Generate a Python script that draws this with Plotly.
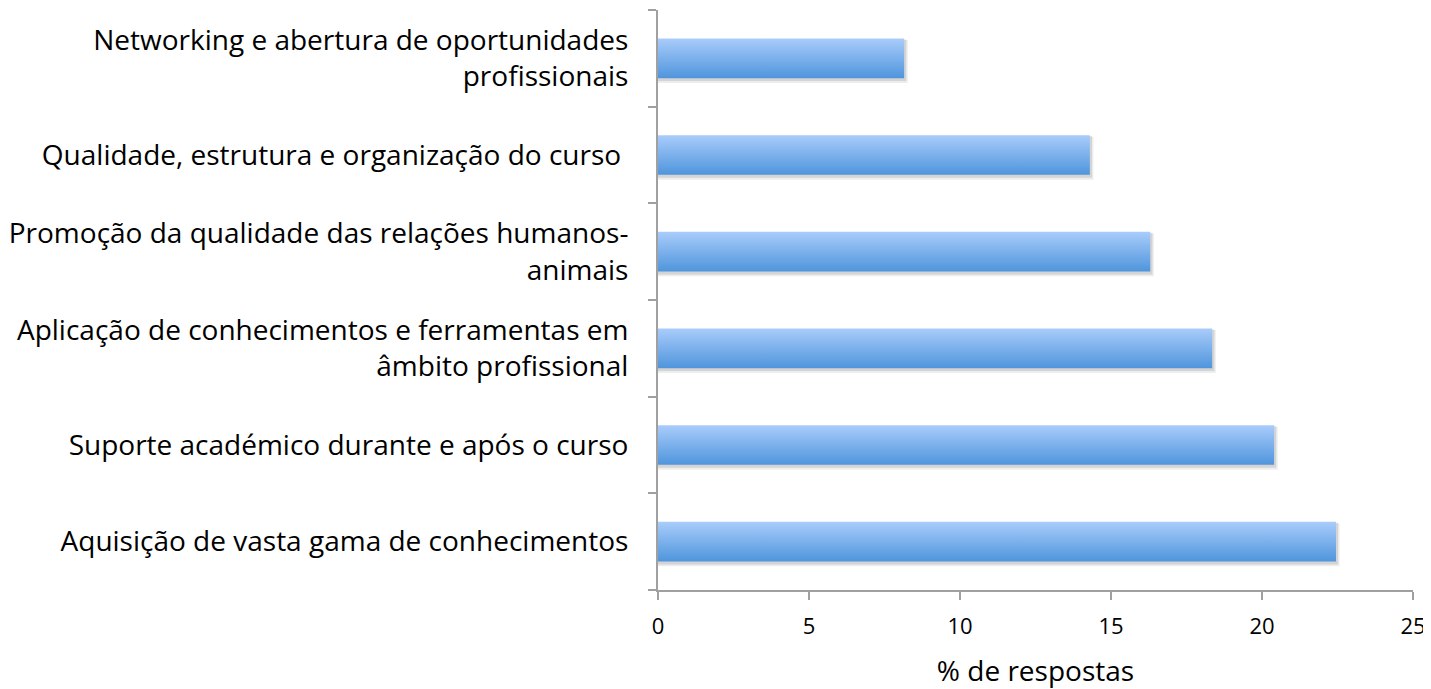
import plotly.graph_objects as go

categories = [
    "Aquisição de vasta gama de conhecimentos",
    "Suporte académico durante e após o curso",
    "Aplicação de conhecimentos e ferramentas em<br>âmbito profissional",
    "Promoção da qualidade das relações humanos-<br>animais",
    "Qualidade, estrutura e organização do curso ",
    "Networking e abertura de oportunidades<br>profissionais",
]
values = [22.45, 20.4, 18.35, 16.3, 14.3, 8.15]
x_ticks = [0, 5, 10, 15, 20, 25]

HALF = 0.205
SHX, SHY = 0.12, 0.05
FONT = "Open Sans"

fig = go.Figure()
for i, v in enumerate(values):
    for k, a in [(1.0, 0.07), (0.6, 0.10)]:
        fig.add_trace(go.Scatter(
            x=[0, v + SHX * k, v + SHX * k, 0, 0],
            y=[i - HALF - SHY * k, i - HALF - SHY * k, i + HALF - SHY * k * 0.3, i + HALF - SHY * k * 0.3, i - HALF - SHY * k],
            mode="lines", line=dict(width=0), fill="toself",
            fillcolor=f"rgba(0,0,0,{a})", hoverinfo="skip", showlegend=False,
        ))
    fig.add_trace(go.Scatter(
        x=[0, v, v, 0, 0],
        y=[i - HALF, i - HALF, i + HALF, i + HALF, i - HALF],
        mode="lines", line=dict(width=0), fill="toself",
        fillgradient=dict(type="vertical", start=i - HALF, stop=i + HALF,
                          colorscale=[[0, "#4F95DC"], [1, "#A9CCFB"]]),
        showlegend=False, name=categories[i],
    ))

axis_color = "#A0A0A0"
# page body has an 8px default margin, so the figure is shrunk by 8px and margins offset
fig.update_layout(
    width=1423, height=681,
    margin=dict(l=650, r=18, t=2, b=99, autoexpand=False),
    paper_bgcolor="white", plot_bgcolor="white",
    font=dict(family=FONT, size=28, color="#000"),
    xaxis=dict(range=[0, 25], tickvals=x_ticks, showgrid=False, zeroline=False, automargin=False,
               showline=True, linecolor=axis_color, linewidth=2,
               ticks="outside", ticklen=8, tickwidth=2, tickcolor=axis_color, ticklabelstandoff=8,
               tickfont=dict(size=22), title=dict(text="% de respostas", font=dict(size=28), standoff=26)),
    yaxis=dict(range=[-0.5, 5.5], tickvals=list(range(6)), ticktext=categories, automargin=False,
               showgrid=False, zeroline=False, showline=True, linecolor=axis_color, linewidth=2,
               ticks="", ticklabelstandoff=22,
               minor=dict(tickvals=[-0.5 + j for j in range(7)], ticks="outside", ticklen=8,
                          tickwidth=2, tickcolor=axis_color, showgrid=False)),
)
fig.write_html("out.html")
